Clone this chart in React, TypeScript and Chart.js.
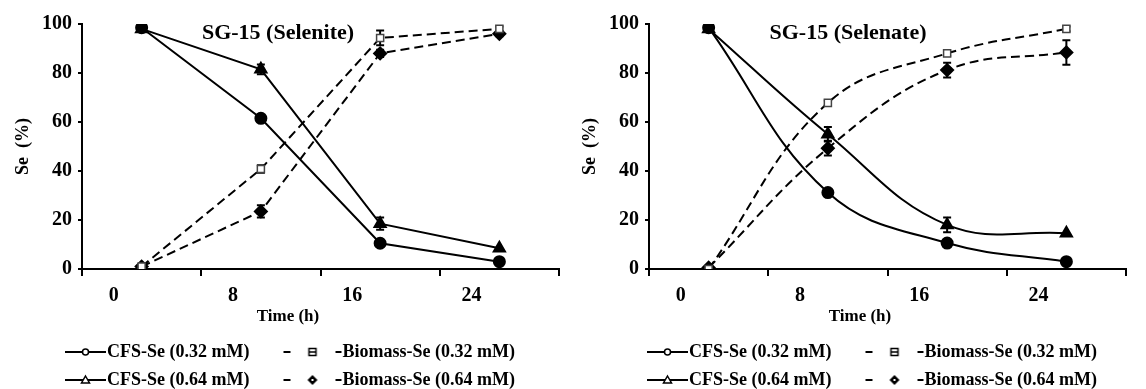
import React, { useEffect, useRef } from 'react';
import { Chart, registerables } from 'chart.js';

Chart.register(...registerables);

// ---------- data ----------
const timeLabels = ['0', '8', '16', '24'];
const legendLabels = ['CFS-Se (0.32 mM)', 'Biomass-Se (0.32 mM)', 'CFS-Se (0.64 mM)', 'Biomass-Se (0.64 mM)'];

// Selenite panel
const seleniteCfs032 = [98.5, 61.5, 10.5, 3];
const seleniteCfs032Err = [0.5, 1, 1, 1.5];
const seleniteBio032 = [1, 40.8, 94.3, 98];
const seleniteBio032Err = [0.3, 1.5, 3, 1];
const seleniteCfs064 = [98, 81.5, 18.5, 8.5];
const seleniteCfs064Err = [0.5, 2, 2.5, 0.5];
const seleniteBio064 = [1, 23.5, 88, 96];
const seleniteBio064Err = [0.3, 2.5, 1.5, 1];

// Selenate panel
const selenateCfs032 = [98.5, 31.2, 10.6, 3];
const selenateCfs032Err = [0.5, 1, 1, 1.5];
const selenateBio032 = [0, 67.8, 88, 98];
const selenateBio032Err = [0.3, 1, 1, 1];
const selenateCfs064 = [98, 55, 18, 14.6];
const selenateCfs064Err = [0.5, 3, 3, 0.5];
const selenateBio064 = [0.5, 49.3, 81.2, 88.4];
const selenateBio064Err = [0.3, 3, 3, 5];

const FONT_FAMILY = "'Liberation Serif', 'Times New Roman', serif";

// ---------- helpers ----------
type Kind = 'circle' | 'square' | 'triangle' | 'diamond';

function makeLegendIcon(kind: Kind, dashed: boolean): HTMLCanvasElement {
  const c = document.createElement('canvas');
  c.width = 92;
  c.height = 14;
  const ctx = c.getContext('2d')!;
  const cy = 7;
  ctx.strokeStyle = '#000';
  ctx.lineWidth = 2;
  let mx: number;
  if (!dashed) {
    ctx.beginPath();
    ctx.moveTo(50, cy);
    ctx.lineTo(91, cy);
    ctx.stroke();
    mx = 70.5;
  } else {
    ctx.beginPath();
    ctx.moveTo(33, cy);
    ctx.lineTo(40, cy);
    ctx.moveTo(85, cy);
    ctx.lineTo(91, cy);
    ctx.stroke();
    mx = 62;
  }
  ctx.lineWidth = 1.5;
  ctx.fillStyle = '#fff';
  ctx.beginPath();
  if (kind === 'circle') {
    ctx.arc(mx, cy, 3, 0, Math.PI * 2);
    ctx.fill();
    ctx.stroke();
  } else if (kind === 'triangle') {
    ctx.moveTo(mx, cy - 4);
    ctx.lineTo(mx + 4, cy + 3);
    ctx.lineTo(mx - 4, cy + 3);
    ctx.closePath();
    ctx.fill();
    ctx.stroke();
  } else if (kind === 'square') {
    ctx.rect(mx - 3.5, cy - 3.5, 7, 7);
    ctx.fill();
    ctx.stroke();
    ctx.beginPath();
    ctx.moveTo(mx - 3.5, cy);
    ctx.lineTo(mx + 3.5, cy);
    ctx.stroke();
  } else {
    ctx.fillStyle = '#000';
    ctx.moveTo(mx, cy - 5);
    ctx.lineTo(mx + 5, cy);
    ctx.lineTo(mx, cy + 5);
    ctx.lineTo(mx - 5, cy);
    ctx.closePath();
    ctx.fill();
    ctx.fillStyle = '#fff';
    ctx.fillRect(mx - 1, cy - 1, 2, 2);
  }
  return c;
}

const errorBarPlugin = {
  id: 'errorBars',
  beforeDatasetsDraw(chart: any) {
    const ctx = chart.ctx;
    const yScale = chart.scales.y;
    ctx.save();
    ctx.strokeStyle = '#000';
    ctx.lineWidth = 2;
    chart.data.datasets.forEach((ds: any, di: number) => {
      const meta = chart.getDatasetMeta(di);
      const errs: number[] = ds.errors || [];
      meta.data.forEach((pt: any, i: number) => {
        const v = ds.data[i];
        const e = errs[i] || 0;
        if (e < 1) return;
        const yTop = yScale.getPixelForValue(v + e);
        const yBot = yScale.getPixelForValue(v - e);
        const x = pt.x;
        ctx.beginPath();
        ctx.moveTo(x, yTop);
        ctx.lineTo(x, yBot);
        ctx.moveTo(x - 4, yTop);
        ctx.lineTo(x + 4, yTop);
        ctx.moveTo(x - 4, yBot);
        ctx.lineTo(x + 4, yBot);
        ctx.stroke();
      });
    });
    ctx.restore();
  },
};

interface Panel {
  cfs032: number[]; cfs032Err: number[];
  bio032: number[]; bio032Err: number[];
  cfs064: number[]; cfs064Err: number[];
  bio064: number[]; bio064Err: number[];
  tension: number;
  padLeft: number;
  padRight: number;
  yWidth: number;
  yTitlePad: number;
}

function buildConfig(p: Panel): any {
  const font = (size: number) => ({ family: FONT_FAMILY, size, weight: 'bold' as const });
  const icons = [
    makeLegendIcon('circle', false),
    makeLegendIcon('square', true),
    makeLegendIcon('triangle', false),
    makeLegendIcon('diamond', true),
  ];
  const common = { borderColor: '#000', borderWidth: 2, tension: p.tension, fill: false };
  return {
    type: 'line',
    data: {
      labels: timeLabels,
      datasets: [
        {
          ...common, label: legendLabels[0], data: p.cfs032, errors: p.cfs032Err,
          pointStyle: 'circle', pointRadius: 5.5, pointBackgroundColor: '#000', pointBorderColor: '#000',
        },
        {
          ...common, label: legendLabels[1], data: p.bio032, errors: p.bio032Err, borderDash: [9, 5],
          pointStyle: 'rect', pointRadius: 5, pointBackgroundColor: '#fff', pointBorderColor: '#444', pointBorderWidth: 1.5,
        },
        {
          ...common, label: legendLabels[2], data: p.cfs064, errors: p.cfs064Err,
          pointStyle: 'triangle', pointRadius: 6.5, pointBackgroundColor: '#000', pointBorderColor: '#000',
        },
        {
          ...common, label: legendLabels[3], data: p.bio064, errors: p.bio064Err, borderDash: [9, 5],
          pointStyle: 'rectRot', pointRadius: 6, pointBackgroundColor: '#000', pointBorderColor: '#000',
        },
      ],
    },
    options: {
      animation: false,
      responsive: false,
      events: [],
      layout: { padding: { left: p.padLeft, right: p.padRight, top: 24, bottom: -10 } },
      plugins: {
        tooltip: { enabled: false },
        title: { display: false },
        legend: {
          display: true,
          position: 'bottom',
          align: 'start',
          labels: {
            usePointStyle: true,
            pointStyleWidth: 74,
            padding: 10,
            color: '#000',
            font: font(18),
            generateLabels: (chart: any) =>
              chart.data.datasets.map((ds: any, i: number) => ({
                text: ds.label,
                pointStyle: icons[i],
                fillStyle: '#000',
                strokeStyle: '#000',
                lineWidth: 0,
                fontColor: '#000',
                hidden: false,
                datasetIndex: i,
              })),
          },
        },
      },
      scales: {
        x: {
          type: 'category',
          offset: true,
          grid: {
            display: true, drawOnChartArea: false, drawTicks: true, tickLength: 7, offset: true,
            color: '#000', lineWidth: 2,
          },
          border: { display: true, color: '#000', width: 2 },
          ticks: { font: font(20), color: '#000', padding: 8, labelOffset: -28, maxRotation: 0, autoSkip: false },
          afterFit: (s: any) => { s.height = 64; },
        },
        y: {
          min: 0,
          max: 100,
          ticks: { stepSize: 20, font: font(20), color: '#000', padding: 6 },
          grid: { drawOnChartArea: false, drawTicks: true, tickLength: 4, color: '#000', lineWidth: 2 },
          border: { display: true, color: '#000', width: 2 },
          title: {
            display: true, text: 'Se  (%)', color: '#000', font: font(18),
            padding: { top: p.yTitlePad, bottom: 0 },
          },
          afterFit: (s: any) => { s.width = p.yWidth; },
        },
      },
    },
    plugins: [errorBarPlugin],
  };
}

const selenitePanel: Panel = {
  cfs032: seleniteCfs032, cfs032Err: seleniteCfs032Err,
  bio032: seleniteBio032, bio032Err: seleniteBio032Err,
  cfs064: seleniteCfs064, cfs064Err: seleniteCfs064Err,
  bio064: seleniteBio064, bio064Err: seleniteBio064Err,
  tension: 0, padLeft: 14, padRight: 14, yWidth: 68, yTitlePad: -1,
};

const selenatePanel: Panel = {
  cfs032: selenateCfs032, cfs032Err: selenateCfs032Err,
  bio032: selenateBio032, bio032Err: selenateBio032Err,
  cfs064: selenateCfs064, cfs064Err: selenateCfs064Err,
  bio064: selenateBio064, bio064Err: selenateBio064Err,
  tension: 0.4, padLeft: 23, padRight: 20, yWidth: 53, yTitlePad: -16,
};

function ChartPanel({ panel, left, title, titleX, xTitleX }: { panel: Panel; left: number; title: string; titleX: number; xTitleX: number }) {
  const ref = useRef<HTMLCanvasElement>(null);
  useEffect(() => {
    if (!ref.current) return;
    const chart = new Chart(ref.current, buildConfig(panel));
    return () => chart.destroy();
  }, [panel]);
  const textStyle: React.CSSProperties = {
    position: 'absolute',
    transform: 'translate(-50%, -50%)',
    whiteSpace: 'nowrap',
    fontFamily: FONT_FAMILY,
    fontWeight: 'bold',
    color: '#000',
    lineHeight: 1,
  };
  return (
    <div style={{ position: 'absolute', left, top: 0, width: 573, height: 389 }}>
      <canvas ref={ref} width={573} height={389} style={{ display: 'block' }} />
      <div style={{ ...textStyle, left: titleX, top: 32, fontSize: 22 }}>{title}</div>
      <div style={{ ...textStyle, left: xTitleX, top: 315, fontSize: 17 }}>Time (h)</div>
    </div>
  );
}

export default function App() {
  return (
    <div style={{ position: 'absolute', left: 0, top: 0, width: 1146, height: 389, background: '#fff', overflow: 'hidden' }}>
      <ChartPanel panel={selenitePanel} left={0} title="SG-15 (Selenite)" titleX={278} xTitleX={288} />
      <ChartPanel panel={selenatePanel} left={573} title="SG-15 (Selenate)" titleX={275} xTitleX={287} />
    </div>
  );
}
